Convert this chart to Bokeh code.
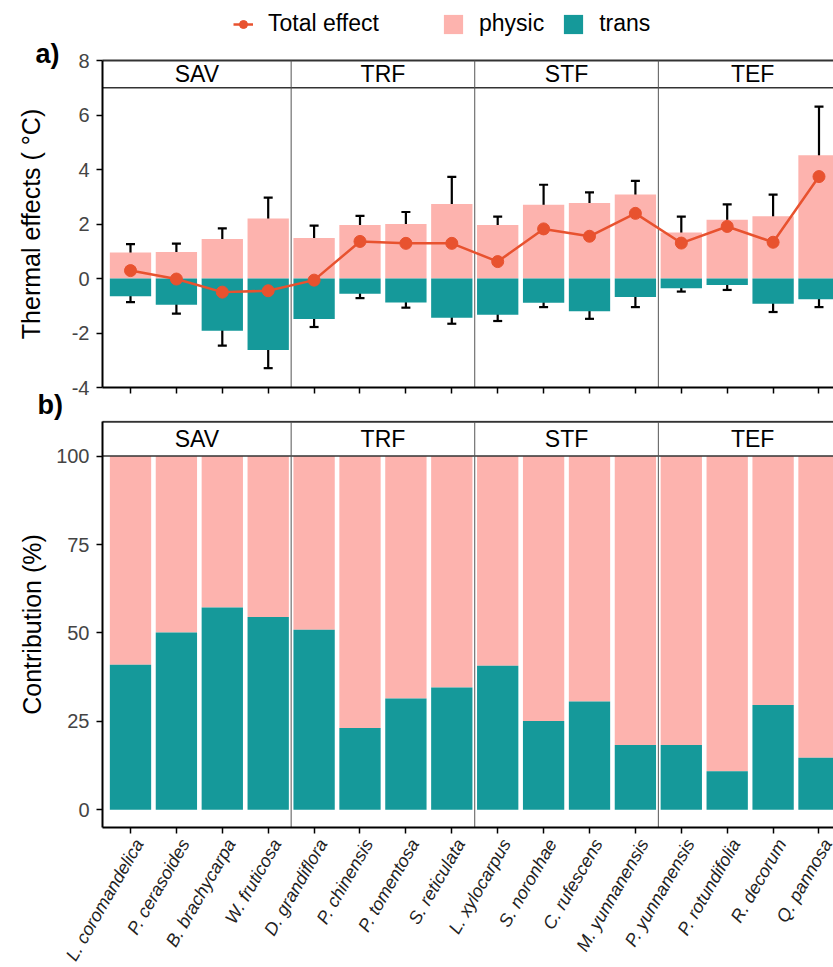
import math
from bokeh.plotting import figure
from bokeh.layouts import column
from bokeh.models import (ColumnDataSource, FixedTicker, Whisker, TeeHead,
                          Legend, LegendItem, Label, Range1d)
from bokeh.embed import file_html
from bokeh.resources import INLINE
from bokeh.core.properties import value

# ---------------- data ----------------
species = ["L. coromandelica", "P. cerasoides", "B. brachycarpa", "W. fruticosa",
           "D. grandiflora", "P. chinensis", "P. tomentosa", "S. reticulata",
           "L. xylocarpus", "S. noronhae", "C. rufescens", "M. yunnanensis",
           "P. yunnanensis", "P. rotundifolia", "R. decorum", "Q. pannosa"]
groups = ["SAV", "TRF", "STF", "TEF"]
group_sizes = [4, 4, 4, 4]

physic = [0.95, 0.97, 1.45, 2.20, 1.49, 1.96, 2.00, 2.73,
          1.96, 2.71, 2.77, 3.08, 1.69, 2.16, 2.28, 4.52]
physic_lo = [0.67, 0.67, 1.09, 1.49, 1.02, 1.63, 1.57, 1.76,
             1.69, 2.00, 2.41, 2.58, 1.12, 1.63, 1.51, 2.75]
physic_hi = [1.26, 1.28, 1.84, 2.97, 1.94, 2.30, 2.44, 3.73,
             2.27, 3.44, 3.16, 3.58, 2.27, 2.72, 3.08, 6.31]
trans = [-0.65, -0.96, -1.92, -2.62, -1.49, -0.56, -0.88, -1.44,
         -1.33, -0.89, -1.20, -0.68, -0.36, -0.24, -0.93, -0.76]
trans_lo = [-0.87, -1.29, -2.46, -3.29, -1.78, -0.72, -1.07, -1.66,
            -1.56, -1.05, -1.48, -1.05, -0.48, -0.42, -1.23, -1.05]
trans_hi = [-0.45, -0.65, -1.42, -1.99, -1.21, -0.45, -0.72, -1.21,
            -1.07, -0.75, -0.93, -0.30, -0.26, -0.12, -0.66, -0.50]
total = [0.29, -0.02, -0.50, -0.45, -0.06, 1.36, 1.29, 1.29,
         0.62, 1.82, 1.55, 2.39, 1.30, 1.91, 1.33, 3.74]
trans_pct = [41.0, 50.1, 57.2, 54.5, 50.9, 23.1, 31.5, 34.6,
             40.7, 25.1, 30.6, 18.3, 18.3, 10.9, 29.6, 14.7]

ticks_a = [-4, -2, 0, 2, 4, 6, 8]
tick_labels_a = ["-4", "-2", "0", "2", "4", "6", "8"]
ticks_b = [0, 25, 50, 75, 100]
tick_labels_b = ["0", "25", "50", "75", "100"]

# ---------------- layout constants ----------------
PINK = "#FDB3AE"
TEAL = "#15999A"
RED = "#E8522F"
FONT = "Liberation Sans"
W = 833
FRAME_LEFT = 102          # px where the y axis sits
PXU_X = 45.9              # px per category
PXU_A = 27.25             # px per degree (panel a)
PXU_B = 3.537             # px per percent (panel b)
A_AXIS_PX = 387           # page y of panel a bottom axis
B_AXIS_PX = 827           # page y of panel b bottom axis

xs = list(range(1, len(species) + 1))
physic_pct = [100 - t for t in trans_pct]

PAD = 0.61
XS = xs[0] - PAD                      # left edge of the panels
XL = XS - FRAME_LEFT / PXU_X          # canvas left
XE = XS + (W - FRAME_LEFT) / PXU_X    # canvas right

bounds = [XS]
acc = 0
for n in group_sizes:
    acc += n
    bounds.append(acc + 0.5)
bounds[-1] = xs[-1] + PAD
centers = [(bounds[i] + bounds[i + 1]) / 2 for i in range(len(groups))]
dividers = bounds[1:-1]


def style(p, yticks, ylabels, ylo, yhi):
    p.xgrid.visible = False
    p.ygrid.visible = False
    p.outline_line_color = None
    p.background_fill_color = "white"
    p.border_fill_color = "white"
    for ax in (p.xaxis[0], p.yaxis[0]):
        ax.axis_line_color = "black"
        ax.axis_line_width = 2
        ax.major_tick_line_color = "black"
        ax.major_tick_line_width = 1.5
        ax.major_tick_out = 6
        ax.major_tick_in = 0
        ax.minor_tick_line_color = None
        ax.major_label_text_font = FONT
    p.xaxis.ticker = FixedTicker(ticks=xs)
    p.xaxis.bounds = (XS, XE + 1)
    p.xaxis.fixed_location = ylo
    p.xaxis.major_label_overrides = {x: "" for x in xs}
    p.yaxis.ticker = FixedTicker(ticks=yticks)
    p.yaxis.major_label_overrides = {t: s for t, s in zip(yticks, ylabels)}
    p.yaxis.bounds = (ylo, yhi)
    p.yaxis.fixed_location = XS
    p.yaxis.major_label_text_font_size = "20px"
    p.yaxis.major_label_text_color = "#444444"
    p.yaxis.major_label_standoff = 7
    p.yaxis.axis_label_text_font = FONT
    p.yaxis.axis_label_text_font_size = "25px"
    p.yaxis.axis_label_text_font_style = "normal"
    p.yaxis.axis_label_text_color = "black"


def strips(p, bottom, lo, hi):
    p.quad(left=XS, right=XE + 1, bottom=lo, top=hi, fill_color="white", line_color=None)
    p.segment(x0=[XS, XS], x1=[XE + 1, XE + 1], y0=[lo, hi], y1=[lo, hi],
              line_color="#333333", line_width=[1.5, 2])
    p.segment(x0=dividers, x1=dividers, y0=[bottom] * len(dividers), y1=[hi] * len(dividers),
              line_color="#555555", line_width=1)
    p.text(x=centers, y=[(lo + hi) / 2] * len(groups), text=groups,
           text_align="center", text_baseline="middle",
           text_font=value(FONT), text_font_size="23px", text_color="black")


def tag(p, text, x_px, y_px, canvas_h):
    p.add_layout(Label(x=x_px, y=canvas_h - y_px, x_units="screen", y_units="screen",
                       text=text, text_baseline="middle", text_align="left",
                       text_font=FONT, text_font_size="27px", text_font_style="bold",
                       text_color="black"))


# ---------------- panel a ----------------
HA = 420
A_BOT, A_TOP = -4, 8
ya0 = A_BOT - (HA - A_AXIS_PX) / PXU_A
ya1 = ya0 + HA / PXU_A
pa = figure(width=W, height=HA, x_range=Range1d(XL, XE), y_range=Range1d(ya0, ya1),
            min_border_left=0, min_border_right=0, min_border_top=0, min_border_bottom=0,
            output_backend="svg", toolbar_location=None)
style(pa, ticks_a, tick_labels_a, A_BOT, A_TOP)
pa.yaxis.axis_label = "Thermal effects ( °C)"
pa.yaxis.axis_label_standoff = 24

src_a = ColumnDataSource(dict(x=xs, physic=physic, plo=physic_lo, phi=physic_hi,
                              trans=trans, tlo=trans_lo, thi=trans_hi, total=total,
                              zero=[0] * len(xs)))
r_phys = pa.vbar(x="x", bottom="zero", top="physic", width=0.9, source=src_a,
                 fill_color=PINK, line_color=None)
r_trans = pa.vbar(x="x", bottom="trans", top="zero", width=0.9, source=src_a,
                  fill_color=TEAL, line_color=None)
strips(pa, A_BOT, 7, A_TOP)

for lo_c, hi_c in (("plo", "phi"), ("tlo", "thi")):
    pa.add_layout(Whisker(source=src_a, base="x", lower=lo_c, upper=hi_c,
                          line_color="black", line_width=2.2,
                          upper_head=TeeHead(size=9, line_color="black", line_width=2.2),
                          lower_head=TeeHead(size=9, line_color="black", line_width=2.2)))

r_line = pa.line(x="x", y="total", source=src_a, line_color=RED, line_width=2.5)
r_pts = pa.scatter(x="x", y="total", source=src_a, size=12, fill_color=RED, line_color=RED)

leg1 = Legend(items=[LegendItem(label="Total effect", renderers=[r_line, r_pts])],
              location=(233, HA - 37), orientation="horizontal", padding=0, margin=0,
              glyph_width=20, glyph_height=20, label_standoff=15,
              label_text_font=FONT, label_text_font_size="23px", label_text_color="black",
              border_line_color=None, background_fill_alpha=0)
leg2 = Legend(items=[LegendItem(label="physic", renderers=[r_phys]),
                     LegendItem(label="trans", renderers=[r_trans])],
              location=(441, HA - 37), orientation="horizontal", padding=0, margin=0,
              glyph_width=24, glyph_height=24, label_standoff=14, spacing=17,
              label_text_font=FONT, label_text_font_size="23px", label_text_color="black",
              border_line_color=None, background_fill_alpha=0)
pa.add_layout(leg1)
pa.add_layout(leg2)
tag(pa, "a)", 35, 53, HA)
tag(pa, "b)", 37, 404, HA)

# ---------------- panel b ----------------
HB = 967 - HA
B_BOT, B_TOP = 0, 100
B_AXIS = B_BOT - 5
yb0 = B_AXIS - (967 - B_AXIS_PX) / PXU_B
yb1 = yb0 + HB / PXU_B
STRIP_B = B_TOP + 9.7
pb = figure(width=W, height=HB, x_range=Range1d(XL, XE), y_range=Range1d(yb0, yb1),
            min_border_left=0, min_border_right=0, min_border_top=0, min_border_bottom=0,
            output_backend="svg", toolbar_location=None)
style(pb, ticks_b, tick_labels_b, B_AXIS, STRIP_B)
pb.yaxis.axis_label = "Contribution (%)"
pb.yaxis.axis_label_standoff = 7

src_b = ColumnDataSource(dict(x=xs, trans=trans_pct, physic=physic_pct,
                              zero=[0] * len(xs),
                              full=[t + ph for t, ph in zip(trans_pct, physic_pct)],
                              name=species, axis=[B_AXIS] * len(xs)))
pb.vbar(x="x", bottom="trans", top="full", width=0.9, source=src_b,
        fill_color=PINK, line_color=None)
pb.vbar(x="x", bottom="zero", top="trans", width=0.9, source=src_b,
        fill_color=TEAL, line_color=None)
strips(pb, B_AXIS, B_TOP, STRIP_B)
# category tick labels (rotated 60 deg, anchored top-right at the tick)
pb.text(x="x", y="axis", text="name", source=src_b, angle=math.pi / 3,
        text_align="right", text_baseline="top", y_offset=8,
        text_font=value(FONT), text_font_size="18px", text_font_style="italic",
        text_color="#222222")

layout = column(pa, pb, spacing=0)
open("out.html", "w").write(file_html(layout, INLINE))
